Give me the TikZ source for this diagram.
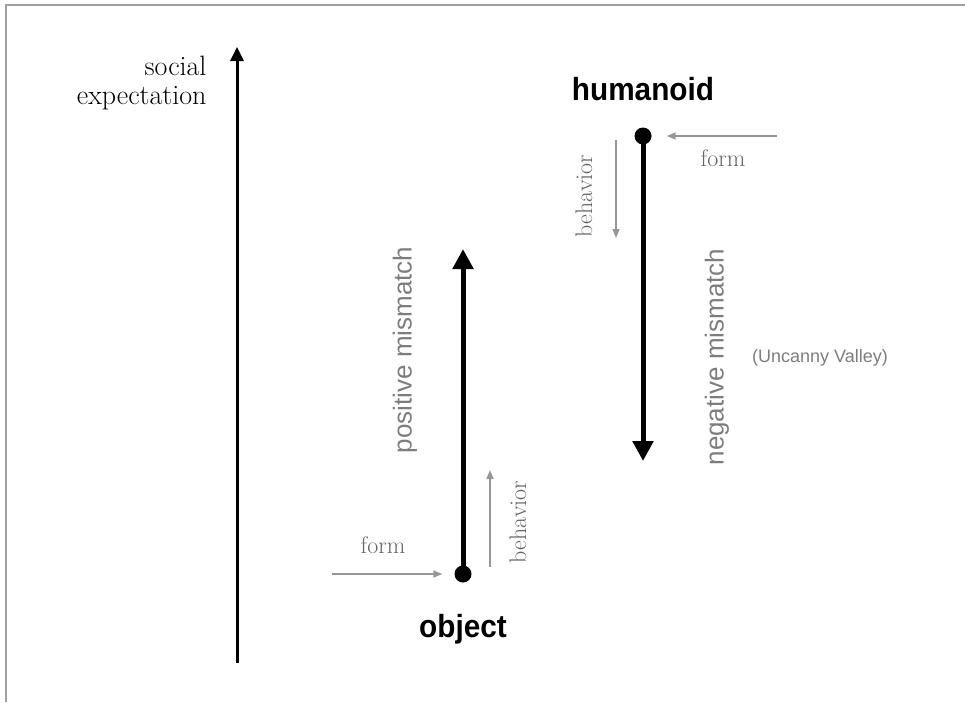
\documentclass[tikz,border=0pt]{standalone}
\usepackage{fontspec}
\newfontfamily\helv{Liberation Sans}
\usetikzlibrary{arrows.meta,positioning}
\definecolor{framegray}{RGB}{160,160,160}
\definecolor{arrowgray}{RGB}{150,150,150}
\definecolor{textgray}{RGB}{100,100,100}
\definecolor{lightgray}{RGB}{125,125,125}
\newcommand{\cond}[1]{\scalebox{0.93}[1]{#1}}
\begin{document}
\begin{tikzpicture}[
        x=1pt, y=-1pt,
        dot/.style={circle, fill=black, inner sep=0pt, minimum size=17pt},
        mismatch/.style={line width=5pt, -{Triangle[length=20pt, width=20pt]}},
        hint/.style={arrowgray, line width=1.5pt, -{Triangle[length=9pt, width=7pt]}},
        serifgray/.style={textgray, font=\fontsize{24}{26}\selectfont},
        sansgray/.style={lightgray, font=\helv\fontsize{26}{28}\selectfont},
        title/.style={font=\helv\bfseries\fontsize{32}{34}\selectfont}
    ]
    \useasboundingbox (0,0) rectangle (965,702);
    % frame
    \draw[framegray, line width=2pt] (6,702) -- (6,5) -- (965,5);

    % social expectation axis
    \coordinate (axbot) at (237,663);
    \coordinate (axtop) at (237,47);
    \draw[line width=3pt, -{Triangle[length=14pt, width=13pt]}] (axbot) -- (axtop);
    \node[anchor=base east, font=\fontsize{28}{30}\selectfont] (soc) at (210,75) {social};
    \node[anchor=base east, font=\fontsize{28}{30}\selectfont] (expec) at (210,104) {expectation};

    % object
    \node[dot] (obj) at (463,574) {};
    \coordinate (postip) at (463,249);
    \draw[mismatch] (obj.center) -- (postip);
    \node[title, anchor=base] (objlbl) at (463,637) {\cond{object}};
    \node[sansgray, rotate=90] (pos) at (405,350) {positive mismatch};
    \coordinate (objform) at (332,574);
    \draw[hint, shorten >=12pt] (objform) -- (obj);
    \node[serifgray, anchor=base] (objformlbl) at (383,553) {form};
    \coordinate (objbeh1) at (490,567);
    \coordinate (objbeh2) at (490,470);
    \draw[hint] (objbeh1) -- (objbeh2);
    \node[serifgray, rotate=90] (objbehlbl) at (518,522) {behavior};

    % humanoid
    \node[dot] (hum) at (643,136) {};
    \coordinate (negtip) at (643,461);
    \draw[mismatch] (hum.center) -- (negtip);
    \node[title, anchor=base] (humlbl) at (643,100) {\cond{humanoid}};
    \node[sansgray, rotate=90] (neg) at (717,357) {negative mismatch};
    \node[lightgray, font=\helv\fontsize{18}{20}\selectfont] (uv) at (820,358) {(Uncanny Valley)};
    \coordinate (humform) at (777,136);
    \draw[hint, shorten >=15pt] (humform) -- (hum);
    \node[serifgray, anchor=base] (humformlbl) at (723,166) {form};
    \coordinate (humbeh1) at (616,140);
    \coordinate (humbeh2) at (616,238);
    \draw[hint] (humbeh1) -- (humbeh2);
    \node[serifgray, rotate=90] (humbehlbl) at (584,196) {behavior};
\end{tikzpicture}
\end{document}
